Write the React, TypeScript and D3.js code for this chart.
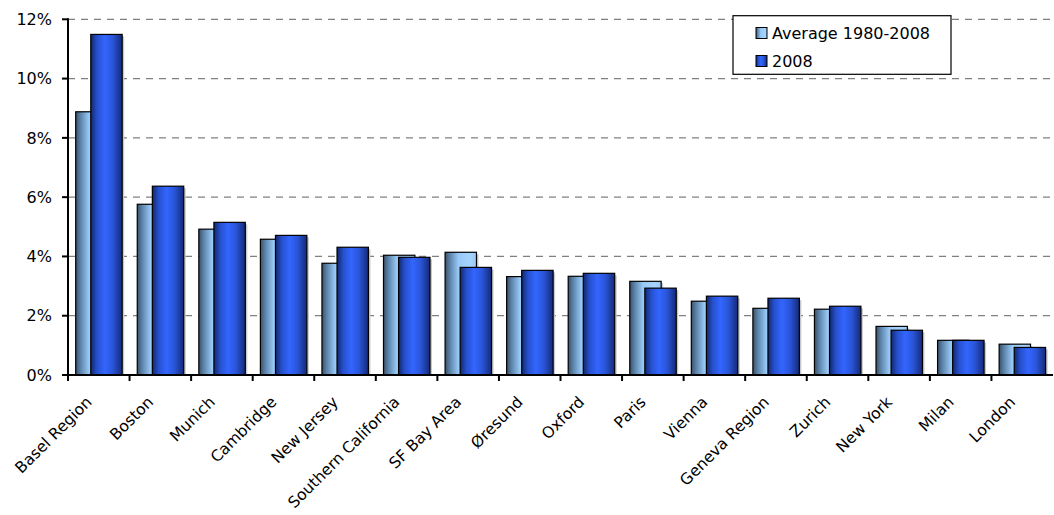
import React from "react";
import * as d3 from "d3";

const categories = [
  "Basel Region", "Boston", "Munich", "Cambridge", "New Jersey", "Southern California",
  "SF Bay Area", "Øresund", "Oxford", "Paris", "Vienna", "Geneva Region", "Zurich",
  "New York", "Milan", "London",
];
const average19802008 = [8.88, 5.76, 4.92, 4.58, 3.77, 4.04, 4.14, 3.32, 3.33, 3.16, 2.49, 2.25, 2.22, 1.64, 1.17, 1.04];
const values2008 = [11.49, 6.37, 5.15, 4.71, 4.31, 3.97, 3.63, 3.53, 3.43, 2.93, 2.66, 2.59, 2.32, 1.51, 1.17, 0.93];
const yTicks = [0, 2, 4, 6, 8, 10, 12];
const seriesNames = ["Average 1980-2008", "2008"];

const W = 1054, H = 515;
const left = 68, right = 1053, top = 19.3, bottom = 375;
const FONT = "'DejaVu Sans', Verdana, sans-serif";
const FS = 16;

export default function App() {
  const x = d3.scaleBand<string>().domain(categories).range([left, right]).padding(0);
  const y = d3.scaleLinear().domain([0, 12]).range([bottom, top]);
  const bw = x.bandwidth();
  const barW = bw * 0.51;
  const off1 = bw * 0.125;
  const off2 = bw * 0.37;

  return (
    <svg width={W} height={H} style={{ position: "absolute", left: 0, top: 0, background: "#fff" }}>
      <defs>
        <linearGradient id="gLight" x1="0" x2="1" y1="0" y2="0">
          <stop offset="0" stopColor="#3a5069" />
          <stop offset="0.15" stopColor="#5b82a8" />
          <stop offset="0.42" stopColor="#97c8f6" />
          <stop offset="0.8" stopColor="#a6d4ff" />
          <stop offset="1" stopColor="#9cc8f2" />
        </linearGradient>
        <linearGradient id="gDark" x1="0" x2="1" y1="0" y2="0">
          <stop offset="0" stopColor="#12286e" />
          <stop offset="0.2" stopColor="#2650cc" />
          <stop offset="0.45" stopColor="#3366ff" />
          <stop offset="0.7" stopColor="#2a55d8" />
          <stop offset="1" stopColor="#142a78" />
        </linearGradient>
      </defs>

      {/* gridlines */}
      {yTicks.filter((t) => t > 0).map((t) => (
        <line key={"g" + t} x1={left} x2={right} y1={y(t)} y2={y(t)}
          stroke="#808080" strokeWidth={1.3} strokeDasharray="7,6" />
      ))}

      {/* bars */}
      {categories.map((c, i) => {
        const bx = x(c)!;
        const y1 = y(average19802008[i]);
        const y2 = y(values2008[i]);
        return (
          <g key={c}>
            <rect x={bx + off1 + 2} y={y1 + 2} width={barW} height={bottom - y1 - 2} fill="#c8c8c8" />
            <rect x={bx + off1} y={y1} width={barW} height={bottom - y1} fill="url(#gLight)" stroke="#000" strokeWidth={1.2} />
            <rect x={bx + off2 + 2} y={y2 + 2} width={barW} height={bottom - y2 - 2} fill="#c8c8c8" />
            <rect x={bx + off2} y={y2} width={barW} height={bottom - y2} fill="url(#gDark)" stroke="#000" strokeWidth={1.2} />
          </g>
        );
      })}

      {/* y axis */}
      <line x1={left} x2={left} y1={top - 1} y2={bottom} stroke="#000" strokeWidth={2} />
      {yTicks.map((t) => (
        <g key={"y" + t}>
          <line x1={left - 6} x2={left} y1={y(t)} y2={y(t)} stroke="#000" strokeWidth={2} />
          <text x={52} y={y(t)} dy="0.36em" textAnchor="end" fontFamily={FONT} fontSize={FS} fill="#000">{t + "%"}</text>
        </g>
      ))}

      {/* x axis */}
      <line x1={left - 1} x2={right} y1={bottom} y2={bottom} stroke="#000" strokeWidth={2} />
      {categories.map((c) => (
        <line key={"t" + c} x1={x(c)!} x2={x(c)!} y1={bottom} y2={bottom + 6} stroke="#000" strokeWidth={2} />
      ))}
      {categories.map((c) => {
        const cx = x(c)! + bw / 2 - 6;
        const cy = bottom + 28;
        return (
          <text key={"l" + c} x={cx} y={cy} textAnchor="end" fontFamily={FONT} fontSize={15.6} fill="#000"
            transform={`rotate(-45 ${cx} ${cy})`}>{c}</text>
        );
      })}

      {/* legend */}
      <rect x={733} y={15.7} width={218} height={58.6} fill="#fff" stroke="#000" strokeWidth={1.2} />
      {seriesNames.map((s, i) => (
        <g key={s}>
          <rect x={756} y={27.5 + i * 28} width={11} height={11} fill={i === 0 ? "url(#gLight)" : "url(#gDark)"} stroke="#000" strokeWidth={1} />
          <text x={772} y={38.5 + i * 28} fontFamily={FONT} fontSize={FS} fill="#000">{s}</text>
        </g>
      ))}
    </svg>
  );
}
